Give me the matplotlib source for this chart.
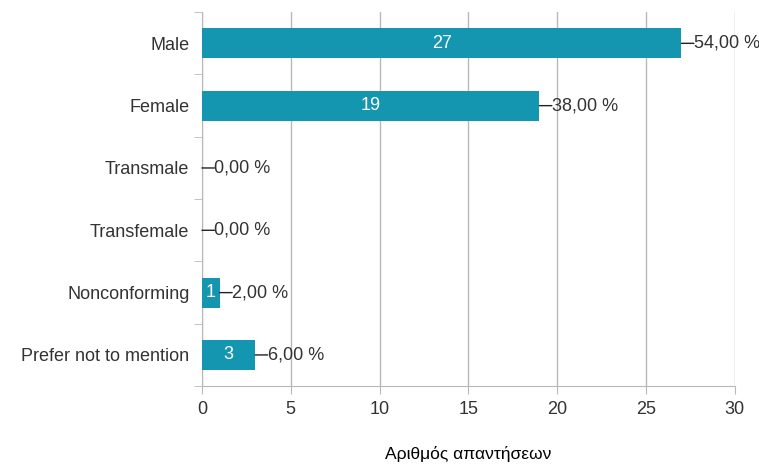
import matplotlib
matplotlib.use("Agg")
import matplotlib.pyplot as plt
import numpy as np

plt.rcParams['font.family'] = ['Liberation Sans', 'DejaVu Sans']

categories = ['Male', 'Female', 'Transmale', 'Transfemale',
              'Nonconforming', 'Prefer not to mention']
counts = [27, 19, 0, 0, 1, 3]
percents = ['54,00 %', '38,00 %', '0,00 %', '0,00 %', '2,00 %', '6,00 %']
xticks = [0, 5, 10, 15, 20, 25, 30]

BAR = '#1496b0'
GRID = '#b8b8b8'
TXT = '#333333'
FS = 13

fig = plt.figure(figsize=(7.59, 4.68), dpi=100)
ax = fig.add_axes([0.266, 0.175, 0.702, 0.799])

y = np.arange(len(categories))
ax.barh(y, counts, height=0.48, color=BAR, zorder=3)

for yi, c, p in zip(y, counts, percents):
    if c > 0:
        ax.text(c / 2, yi, str(c), color='white', ha='center', va='center',
                fontsize=FS, zorder=4)
    # leader line + percentage label
    ax.annotate('', xy=(c, yi), xytext=(9, 0), textcoords='offset points',
                arrowprops=dict(arrowstyle='-', color='#222222', lw=1,
                                shrinkA=0, shrinkB=0), zorder=4)
    ax.annotate(p, xy=(c, yi), xytext=(9, 0), textcoords='offset points',
                ha='left', va='center', fontsize=FS, color=TXT, zorder=4)

ax.set_xlim(0, 30)
ax.set_ylim(len(categories) - 0.5, -0.5)
ax.set_xticks(xticks)
ax.set_yticks(y)
ax.set_yticklabels(categories)
ax.set_yticks(np.arange(-0.5, len(categories)), minor=True)
ax.tick_params(axis='y', which='major', length=0, pad=9, labelsize=FS,
               labelcolor=TXT)
ax.tick_params(axis='y', which='minor', length=6, color=GRID, direction='out')
ax.tick_params(axis='x', length=6, color=GRID, labelsize=FS,
               labelcolor=TXT, pad=5)
ax.xaxis.grid(True, color=GRID, lw=1, zorder=0)

for s in ['top', 'right']:
    ax.spines[s].set_visible(False)
for s in ['left', 'bottom']:
    ax.spines[s].set_color(GRID)

ax.set_xlabel('Αριθμός απαντήσεων', fontsize=12.5, color='black', labelpad=20)

fig.savefig('out.png', dpi=100)
